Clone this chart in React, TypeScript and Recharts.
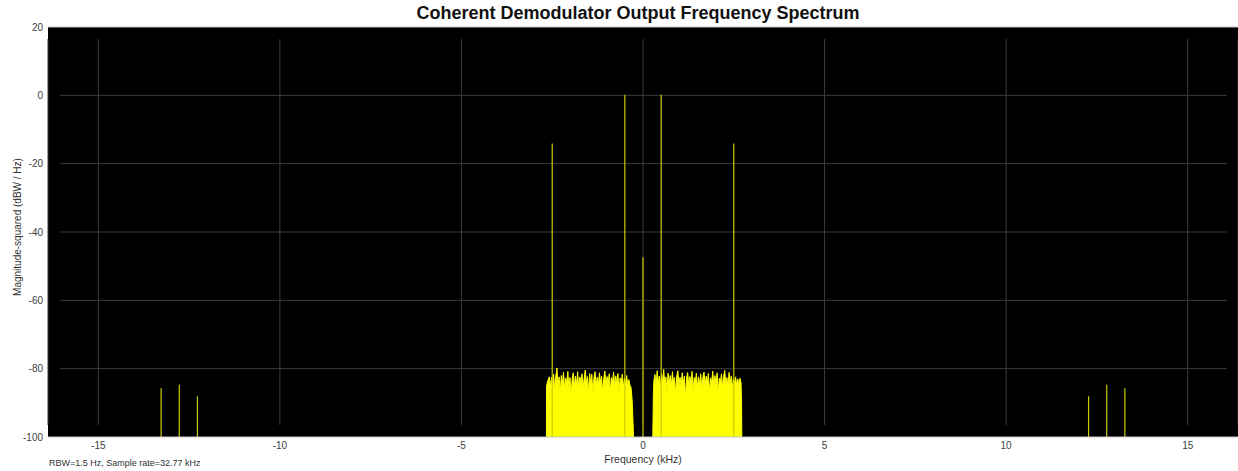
import React from "react";
import {
  ComposedChart,
  Area,
  Line,
  XAxis,
  YAxis,
  CartesianGrid,
  ReferenceLine,
} from "recharts";

// sample rate 32.77 kHz -> two-sided span
const F_MIN = -16.385;
const F_MAX = 16.385;

const X_TICKS = [-15, -10, -5, 0, 5, 10, 15];
const Y_TICKS = [-100, -80, -60, -40, -20, 0, 20];

// discrete tones (kHz) and their peak levels (dB)
const TONE_FREQ = [-13.27, -12.77, -12.27, -2.5, -0.5, 0, 0.5, 2.5, 12.27, 12.77, 13.27];
const TONE_DB = [-85.7, -84.7, -88.1, -14.1, 0.2, -47.4, 0.2, -14.1, -88.1, -84.7, -85.7];

// noise band below the carrier (upper envelope)
const LOW_BAND_F = [
  -2.66, -2.655, -2.62, -2.58, -2.55, -2.52, -2.49, -2.46, -2.43, -2.4, -2.37, -2.34, -2.31, -2.28, -2.25,
  -2.22, -2.19, -2.16, -2.13, -2.1, -2.07, -2.04, -2.01, -1.98, -1.95, -1.92, -1.89, -1.86, -1.83, -1.8,
  -1.77, -1.74, -1.71, -1.68, -1.65, -1.62, -1.59, -1.56, -1.53, -1.5, -1.47, -1.44, -1.41, -1.38, -1.35,
  -1.32, -1.29, -1.26, -1.23, -1.2, -1.17, -1.14, -1.11, -1.08, -1.05, -1.02, -0.99, -0.96, -0.93, -0.9,
  -0.87, -0.84, -0.81, -0.78, -0.75, -0.72, -0.69, -0.66, -0.63, -0.6, -0.57, -0.54, -0.51, -0.48, -0.45,
  -0.42, -0.39, -0.36, -0.33, -0.3, -0.28, -0.26,
];
const LOW_BAND_DB = [
  -100, -85, -83.5, -82.4, -85.2, -82.5, -84.9, -81.6, -86.5, -82.1, -79.8, -84.7, -82.4, -87.3, -82.0,
  -84.6, -81.0, -85.8, -82.7, -84.3, -80.8, -86.0, -82.6, -88.1, -82.9, -81.2, -85.3, -82.2, -84.8, -80.9,
  -86.0, -82.4, -84.1, -81.5, -85.6, -82.8, -80.4, -84.5, -82.3, -86.9, -81.4, -84.4, -81.6, -87.6, -82.7,
  -80.9, -84.9, -82.5, -85.1, -81.2, -84.2, -82.2, -87.2, -82.9, -80.7, -85.4, -82.3, -84.7, -81.5, -86.8,
  -82.6, -84.0, -81.0, -85.2, -82.1, -84.6, -81.4, -87.1, -82.7, -84.4, -81.6, -85.5, -82.9, -84.1, -82.0,
  -85.0, -83.2, -84.8, -85.5, -89, -94, -100,
];

// noise band above the carrier (upper envelope)
const HIGH_BAND_F = [
  0.27, 0.285, 0.3, 0.33, 0.36, 0.39, 0.42, 0.45, 0.48, 0.51, 0.54, 0.57, 0.6, 0.63, 0.66, 0.69, 0.72,
  0.75, 0.78, 0.81, 0.84, 0.87, 0.9, 0.93, 0.96, 0.99, 1.02, 1.05, 1.08, 1.11, 1.14, 1.17, 1.2, 1.23, 1.26,
  1.29, 1.32, 1.35, 1.38, 1.41, 1.44, 1.47, 1.5, 1.53, 1.56, 1.59, 1.62, 1.65, 1.68, 1.71, 1.74, 1.77, 1.8,
  1.83, 1.86, 1.89, 1.92, 1.95, 1.98, 2.01, 2.04, 2.07, 2.1, 2.13, 2.16, 2.19, 2.22, 2.25, 2.28, 2.31, 2.34,
  2.37, 2.4, 2.43, 2.46, 2.49, 2.52, 2.55, 2.58, 2.61, 2.64, 2.67, 2.7, 2.715, 2.72,
];
const HIGH_BAND_DB = [
  -100, -88, -83.5, -81.7, -85.0, -80.6, -84.3, -82.2, -85.7, -81.5, -84.0, -80.2, -84.8, -82.4, -86.5,
  -81.3, -84.5, -82.0, -85.4, -80.9, -84.1, -82.6, -87.4, -82.1, -80.6, -84.9, -82.5, -85.2, -81.2, -84.3,
  -82.2, -88.0, -82.8, -81.1, -85.1, -82.3, -84.6, -80.8, -86.9, -82.6, -84.0, -81.3, -85.6, -82.4, -84.7,
  -81.5, -86.3, -82.5, -81.0, -85.0, -82.2, -84.4, -81.4, -86.8, -82.7, -84.2, -80.7, -85.3, -82.0, -84.5,
  -81.2, -87.2, -82.8, -84.1, -81.5, -85.5, -82.3, -80.5, -84.8, -82.6, -85.2, -81.1, -84.6, -82.1, -85.7,
  -82.9, -84.3, -82.4, -85.0, -83.0, -84.9, -82.8, -84.2, -90, -100,
];

const FONT = '"Liberation Sans", Arial, sans-serif';
const GRID = "#3c3c3c";
const BORDER = "#c4c4c4";
const TICK = { fill: "#404040", fontSize: 10, fontFamily: FONT };

const lowBand = LOW_BAND_F.map((f, i) => ({ f, db: LOW_BAND_DB[i] }));
const highBand = HIGH_BAND_F.map((f, i) => ({ f, db: HIGH_BAND_DB[i] }));
// each tone: floor -> peak, then a gap so tones are not joined
const tones = TONE_FREQ.flatMap((f, i) => [
  { f, db: -100 },
  { f, db: TONE_DB[i] },
  { f, db: null },
]);

function HGrid(p: any) {
  if (Math.abs(p.y1 - p.y) < 1 || Math.abs(p.y1 - (p.y + p.height)) < 1) return null;
  return <line key={p.key} x1={p.x + 12} x2={p.x + p.width - 11} y1={p.y1} y2={p.y2} stroke={GRID} strokeWidth={1} />;
}

function VGrid(p: any) {
  return <line key={p.key} x1={p.x1} x2={p.x2} y1={p.y + 12} y2={p.y + p.height - 12} stroke={GRID} strokeWidth={1} />;
}

export default function App() {
  return (
    <div style={{ position: "absolute", left: 0, top: 0, width: 1238, height: 471, background: "#fff", fontFamily: FONT }}>
      <div
        style={{
          position: "absolute",
          left: 43,
          width: 1190,
          top: 3,
          textAlign: "center",
          fontSize: 18,
          fontWeight: "bold",
          color: "#111",
        }}
      >
        Coherent Demodulator Output Frequency Spectrum
      </div>
      <div style={{ position: "absolute", left: 49, top: 458, fontSize: 9, color: "#333" }}>
        RBW=1.5 Hz, Sample rate=32.77 kHz
      </div>
      <ComposedChart width={1238} height={471} margin={{ top: 27, right: 0, bottom: 0, left: 0 }}>
        <CartesianGrid fill="#000" fillOpacity={1} horizontal={HGrid} vertical={VGrid} />
        <XAxis
          dataKey="f"
          type="number"
          domain={[F_MIN, F_MAX]}
          ticks={X_TICKS}
          allowDataOverflow
          height={34}
          tickLine={false}
          tickSize={0}
          tickMargin={5}
          axisLine={{ stroke: BORDER }}
          tick={TICK}
          label={{
            content: (props: any) => {
              const vb = props.viewBox;
              return (
                <text x={vb.x + vb.width / 2} y={vb.y + 26} textAnchor="middle" fontSize={10.5} fill="#333" fontFamily={FONT}>
                  Frequency (kHz)
                </text>
              );
            },
          }}
        />
        <YAxis
          type="number"
          domain={[-100, 20]}
          ticks={Y_TICKS}
          width={48}
          tickLine={false}
          tickSize={0}
          tickMargin={5}
          axisLine={false}
          tick={TICK}
          label={{
            content: (props: any) => {
              const vb = props.viewBox;
              const cx = vb.x + 21;
              const cy = vb.y + vb.height / 2 - 5;
              return (
                <text x={cx} y={cy} transform={`rotate(-90 ${cx} ${cy})`} textAnchor="middle" fontSize={10} fill="#333" fontFamily={FONT}>
                  Magnitude-squared (dBW / Hz)
                </text>
              );
            },
          }}
        />
        <ReferenceLine y={20} stroke={BORDER} strokeWidth={1} />
        <Area
          data={lowBand}
          dataKey="db"
          type="linear"
          baseValue={-100}
          stroke="#ffff00"
          strokeWidth={1}
          fill="#ffff00"
          fillOpacity={1}
          isAnimationActive={false}
          dot={false}
          activeDot={false}
        />
        <Area
          data={highBand}
          dataKey="db"
          type="linear"
          baseValue={-100}
          stroke="#ffff00"
          strokeWidth={1}
          fill="#ffff00"
          fillOpacity={1}
          isAnimationActive={false}
          dot={false}
          activeDot={false}
        />
        <Line
          data={tones}
          dataKey="db"
          type="linear"
          stroke="#cccc00"
          strokeWidth={1.2}
          dot={false}
          activeDot={false}
          connectNulls={false}
          isAnimationActive={false}
        />
      </ComposedChart>
    </div>
  );
}
